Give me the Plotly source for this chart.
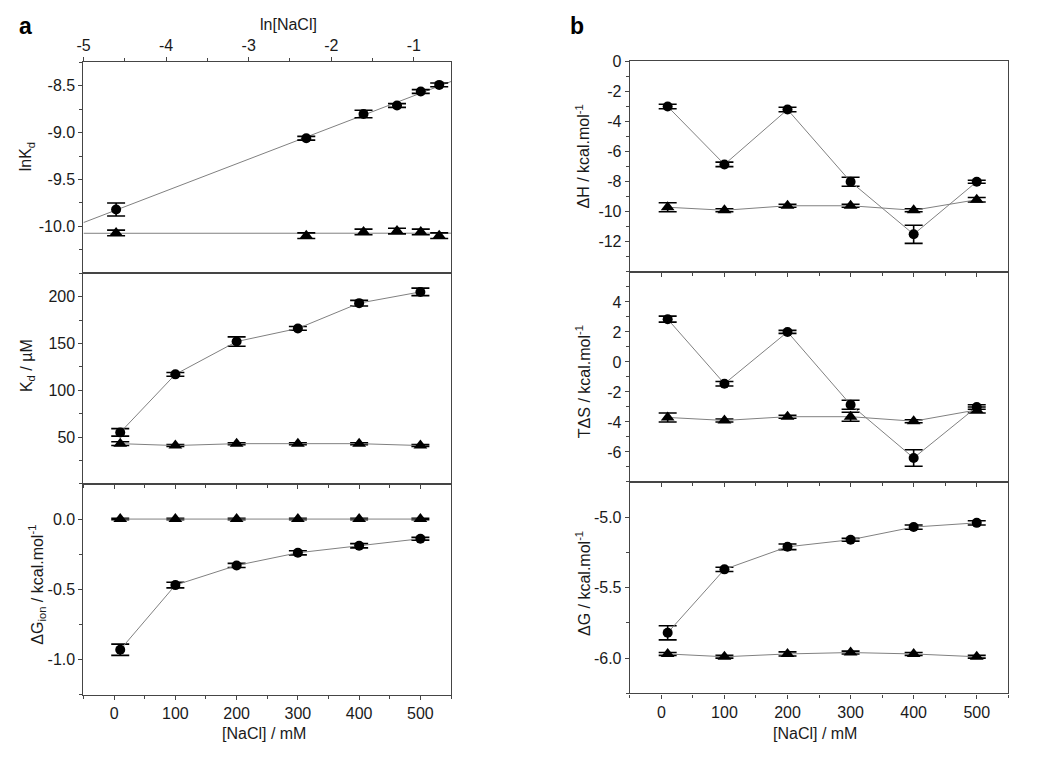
import numpy as np
import plotly.graph_objects as go

# ---------------- data ----------------
nacl_mM = [10, 100, 200, 300, 400, 500]
ln_nacl = [float(v) for v in np.log(np.array(nacl_mM) / 1000.0)]

# panel a, top: lnKd vs ln[NaCl]
lnKd_circ = [-9.82, -9.06, -8.80, -8.71, -8.56, -8.49]
lnKd_circ_err = [0.07, 0.02, 0.04, 0.02, 0.02, 0.02]
lnKd_tri = [-10.07, -10.10, -10.06, -10.05, -10.06, -10.10]
lnKd_tri_err = [0.03, 0.03, 0.03, 0.03, 0.03, 0.03]

# panel a, middle: Kd (uM)
Kd_circ = [55, 117, 152, 166, 193, 205]
Kd_circ_err = [4, 2, 5, 2, 3, 4]
Kd_tri = [43, 41, 43, 43, 43, 41]
Kd_tri_err = [2, 1, 1, 1, 1, 1]

# panel a, bottom: dG_ion
dGion_circ = [-0.93, -0.47, -0.33, -0.24, -0.19, -0.14]
dGion_circ_err = [0.04, 0.02, 0.015, 0.015, 0.015, 0.01]
dGion_tri = [0.0, 0.0, 0.0, 0.0, 0.0, 0.0]
dGion_tri_err = [0.005, 0.005, 0.005, 0.005, 0.005, 0.005]

# panel b, top: dH
dH_circ = [-3.0, -6.85, -3.2, -8.0, -11.5, -8.0]
dH_circ_err = [0.15, 0.15, 0.15, 0.3, 0.6, 0.1]
dH_tri = [-9.7, -9.9, -9.6, -9.6, -9.9, -9.2]
dH_tri_err = [0.3, 0.1, 0.1, 0.1, 0.1, 0.15]

# panel b, middle: TdS
TdS_circ = [2.85, -1.45, 2.0, -2.85, -6.4, -3.0]
TdS_circ_err = [0.2, 0.15, 0.1, 0.3, 0.55, 0.15]
TdS_tri = [-3.7, -3.9, -3.65, -3.65, -3.95, -3.2]
TdS_tri_err = [0.3, 0.1, 0.1, 0.3, 0.1, 0.2]

# panel b, bottom: dG
dG_circ = [-5.82, -5.37, -5.21, -5.16, -5.07, -5.04]
dG_circ_err = [0.05, 0.015, 0.02, 0.01, 0.015, 0.015]
dG_tri = [-5.97, -5.99, -5.97, -5.96, -5.97, -5.99]
dG_tri_err = [0.01, 0.01, 0.015, 0.01, 0.01, 0.01]

# axis ticks
x_ticks = [0, 100, 200, 300, 400, 500]
lnx_ticks = [-5, -4, -3, -2, -1]
y_lnKd_ticks = [-10.0, -9.5, -9.0, -8.5]
y_Kd_ticks = [50, 100, 150, 200]
y_dGion_ticks = [-1.0, -0.5, 0.0]
y_dH_ticks = [-12, -10, -8, -6, -4, -2, 0]
y_TdS_ticks = [-6, -4, -2, 0, 2, 4]
y_dG_ticks = [-6.0, -5.5, -5.0]

# ---------------- styling ----------------
FONT = "Liberation Sans, Arial, sans-serif"
AX = "#454545"
LINE = "#808080"
MK = "#000000"
FS = 16


def fmt(vals, dec):
    out = []
    for v in vals:
        s = f"{v:.{dec}f}"
        if s.startswith("-0") and float(s) == 0:
            s = s[1:]
        out.append(s)
    return out


fig = go.Figure()


def add_series(x, y, err, symbol, size, xa, ya, lines=True):
    fig.add_trace(go.Scatter(
        x=x, y=y, xaxis=xa, yaxis=ya,
        mode="lines+markers" if lines else "markers",
        line=dict(color=LINE, width=1),
        marker=dict(symbol=symbol, size=size, color=MK),
        error_y=dict(type="data", array=err, visible=True, color=MK,
                     thickness=1.6, width=9),
        showlegend=False, cliponaxis=False,
    ))


# panel a top: linear fits across full axis range
lnx_range = [-5, -0.55]
for yv in (lnKd_circ, lnKd_tri):
    p = np.polyfit(ln_nacl, yv, 1)
    xs = np.array(lnx_range)
    fig.add_trace(go.Scatter(x=list(xs), y=list(np.polyval(p, xs)), xaxis="x", yaxis="y",
                             mode="lines", line=dict(color=LINE, width=1), showlegend=False))
add_series(ln_nacl, lnKd_circ, lnKd_circ_err, "circle", 10, "x", "y", lines=False)
add_series(ln_nacl, lnKd_tri, lnKd_tri_err, "triangle-up", 12, "x", "y", lines=False)

add_series(nacl_mM, Kd_tri, Kd_tri_err, "triangle-up", 12, "x2", "y2")
add_series(nacl_mM, Kd_circ, Kd_circ_err, "circle", 10, "x2", "y2")
add_series(nacl_mM, dGion_tri, dGion_tri_err, "triangle-up", 12, "x3", "y3")
add_series(nacl_mM, dGion_circ, dGion_circ_err, "circle", 10, "x3", "y3")

add_series(nacl_mM, dH_tri, dH_tri_err, "triangle-up", 12, "x4", "y4")
add_series(nacl_mM, dH_circ, dH_circ_err, "circle", 10, "x4", "y4")
add_series(nacl_mM, TdS_tri, TdS_tri_err, "triangle-up", 12, "x5", "y5")
add_series(nacl_mM, TdS_circ, TdS_circ_err, "circle", 10, "x5", "y5")
add_series(nacl_mM, dG_tri, dG_tri_err, "triangle-up", 12, "x6", "y6")
add_series(nacl_mM, dG_circ, dG_circ_err, "circle", 10, "x6", "y6")

W, H = 1050, 761


def px(x):
    return x / W


def py(y):
    return 1 - y / H


xa_dom = [px(77), px(447)]
xb_dom = [px(627), px(1008)]
ya_dom = [[py(268), py(55)], [py(481), py(268)], [py(694), py(481)]]
yb_dom = [[py(266.7), py(54)], [py(479), py(266.7)], [py(692.7), py(479)]]

tickfont = dict(family=FONT, size=FS, color="#1a1a1a")


def xaxis(dom, anchor, labels, side="bottom", ticks=True):
    d = dict(domain=dom, anchor=anchor, range=[-50, 550], side=side,
             showline=True, linecolor=AX, linewidth=1.2, mirror=True,
             showgrid=False, zeroline=False,
             tickmode="array", tickvals=x_ticks, ticktext=[str(v) for v in x_ticks],
             showticklabels=labels, tickfont=tickfont,
             ticks="outside" if ticks else "", ticklen=4, tickwidth=1, tickcolor=AX,
             minor=dict(ticks="outside" if ticks else "", ticklen=3, tickwidth=1,
                        tickcolor=AX, tickmode="linear", tick0=0, dtick=50, showgrid=False))
    return d


def yaxis(dom, anchor, rng, vals, dec, minor_dtick):
    return dict(domain=dom, anchor=anchor, range=rng,
                showline=True, linecolor=AX, linewidth=1.2, mirror=True,
                showgrid=False, zeroline=False,
                tickmode="array", tickvals=vals, ticktext=fmt(vals, dec),
                tickfont=tickfont, ticks="outside", ticklen=4, tickwidth=1, tickcolor=AX,
                minor=dict(ticks="outside", ticklen=3, tickwidth=1, tickcolor=AX,
                           tickmode="linear", tick0=0, dtick=minor_dtick, showgrid=False))


layout = dict(
    width=W, height=H, margin=dict(l=0, r=0, t=0, b=0),
    paper_bgcolor="white", plot_bgcolor="white",
    font=dict(family=FONT, size=FS, color="#1a1a1a"),
    showlegend=False,
)

# top axis of panel a (ln[NaCl])
layout["xaxis"] = dict(domain=xa_dom, anchor="y", side="top", range=lnx_range,
                       showline=True, linecolor=AX, linewidth=1.2, mirror=True,
                       showgrid=False, zeroline=False,
                       tickmode="array", tickvals=lnx_ticks, ticktext=[str(v) for v in lnx_ticks],
                       tickfont=tickfont, ticks="outside", ticklen=4, tickwidth=1, tickcolor=AX,
                       minor=dict(ticks="outside", ticklen=3, tickwidth=1, tickcolor=AX,
                                  tickmode="linear", tick0=0, dtick=0.5, showgrid=False))
layout["yaxis"] = yaxis(ya_dom[0], "x", [-10.5, -8.25], y_lnKd_ticks, 1, 0.25)
layout["xaxis2"] = xaxis(xa_dom, "y2", False)
layout["yaxis2"] = yaxis(ya_dom[1], "x2", [0, 225], y_Kd_ticks, 0, 25)
layout["xaxis3"] = xaxis(xa_dom, "y3", True)
layout["yaxis3"] = yaxis(ya_dom[2], "x3", [-1.25, 0.25], y_dGion_ticks, 1, 0.25)

layout["xaxis4"] = xaxis(xb_dom, "y4", False)
layout["yaxis4"] = yaxis(yb_dom[0], "x4", [-14, 0], y_dH_ticks, 0, 1)
layout["xaxis5"] = xaxis(xb_dom, "y5", False)
layout["yaxis5"] = yaxis(yb_dom[1], "x5", [-8, 6], y_TdS_ticks, 0, 1)
layout["xaxis6"] = xaxis(xb_dom, "y6", True)
layout["yaxis6"] = yaxis(yb_dom[2], "x6", [-6.25, -4.75], y_dG_ticks, 1, 0.25)

fig.update_layout(**layout)

tfont = dict(family=FONT, size=FS, color="#1a1a1a")


def ann(text, x, y, angle=0, font=tfont):
    fig.add_annotation(text=text, x=px(x), y=py(y), xref="paper", yref="paper",
                       showarrow=False, textangle=angle, font=font,
                       xanchor="center", yanchor="middle")


ann("ln[NaCl]", 283, 17)
ann("[NaCl] / mM", 259, 733)
ann("[NaCl] / mM", 813, 733)
ann("lnK<sub>d</sub>", 20, 150, -90)
ann("K<sub>d</sub> / µM", 20, 361, -90)
ann("ΔG<sub>ion</sub> / kcal.mol<sup>-1</sup>", 30, 583, -90)
ann("ΔH / kcal.mol<sup>-1</sup>", 580, 150, -90)
ann("TΔS / kcal.mol<sup>-1</sup>", 580, 378, -90)
ann("ΔG / kcal.mol<sup>-1</sup>", 580, 582, -90)

bold = dict(family=FONT, size=23, color="#000000")
ann("<b>a</b>", 19, 18, 0, bold)
ann("<b>b</b>", 574, 18, 0, bold)

fig.write_html(
    "out.html",
    config={"displayModeBar": False},
    post_script="document.body.style.margin='0';document.body.style.overflow='hidden';",
)
